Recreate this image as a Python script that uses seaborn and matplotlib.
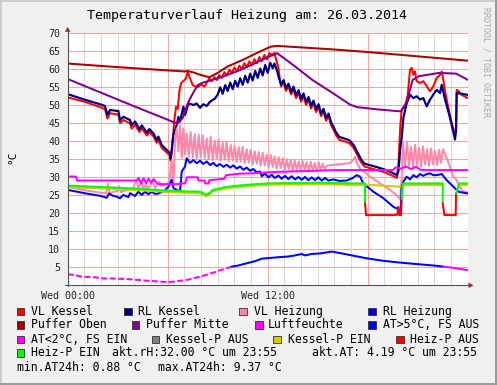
import matplotlib
matplotlib.use('Agg')
import matplotlib.pyplot as plt
import seaborn as sns
import pandas as pd
from matplotlib.lines import Line2D
from matplotlib.patches import Rectangle, Polygon

sns.set_style('white')
plt.rcParams['font.family'] = ['DejaVu Sans Mono', 'DejaVu Sans']

W, H = 497, 385

# ---------------- data (hours since Wed 00:00, degrees C) ----------------
po_t = [0, 3, 7.0, 7.2, 7.5, 8.0, 8.5, 9.0, 9.6, 10.5, 11.2, 11.7, 12.2, 12.6, 13.6, 16, 18, 20, 22, 24]
po_v = [61.6, 60.6, 59.4, 59.5, 59.2, 58.4, 57.8, 59.0, 60.8, 62.6, 64.2, 65.3, 66.3, 66.5, 66.2, 65.5, 64.8, 64.0, 63.2, 62.4]

pm_t = [0, 2, 4, 6.0, 6.45, 6.6, 6.9, 7.2, 7.46, 7.8, 8.05, 9.0, 9.62, 10.3, 11.06, 11.8, 12.56, 13.64, 14.66, 15.9,
        16.94, 17.36, 18.5, 20.0, 20.35, 20.7, 21.1, 22.3, 23.3, 24.0]
pm_v = [57.3, 53.5, 49.7, 46.0, 45.1, 45.0, 46.5, 50.5, 52.9, 55.6, 56.2, 57.5, 58.5, 59.7, 61.3, 62.9, 64.5, 60.8, 57.1, 53.4,
        50.2, 49.5, 48.9, 48.3, 51.1, 57.1, 58.1, 59.0, 58.8, 57.1]

rk_t = [0, 1.0, 2.0, 2.24, 2.38, 2.54, 3.04, 3.14, 3.34, 3.74, 3.84, 4.04, 4.3, 4.45, 4.75, 4.9, 5.14, 5.34, 5.44, 5.64,
        5.94, 6.14, 6.18, 6.34, 6.54, 6.64, 6.74, 6.94, 7.04, 7.24, 7.54, 7.74, 7.94, 8.14, 8.34, 8.54, 8.84,
        9.0, 9.15, 9.3, 9.45, 9.6, 9.75, 9.9, 10.05, 10.2, 10.35, 10.5, 10.65, 10.8, 10.95, 11.1, 11.25, 11.4, 11.55,
        11.7, 11.85, 12.0, 12.15, 12.3, 12.4, 12.55, 12.7, 12.8, 12.95, 13.1, 13.25, 13.4, 13.55, 13.7, 13.85, 14.0,
        14.15, 14.3, 14.45, 14.6, 14.75, 14.9, 15.05, 15.2, 15.35, 15.5, 15.65, 15.8, 15.95, 16.1, 16.3, 16.6, 16.9,
        17.15, 17.4, 17.6, 17.8, 18.5, 19.0, 19.5, 19.75, 19.85, 19.95, 20.04, 20.14, 20.34, 20.54, 20.74, 20.94,
        21.14, 21.34, 21.54, 21.74, 21.94, 22.14, 22.34, 22.44, 22.64, 22.84, 23.04, 23.24, 23.3, 23.34, 23.64, 24.0]
rk_v = [53.1, 51.6, 50.2, 49.8, 47.3, 48.7, 48.4, 45.9, 46.8, 45.9, 44.5, 45.5, 43.4, 44.4, 42.4, 43.4, 42.2, 40.4, 41.3, 39.0,
        37.6, 36.7, 35.0, 41.7, 44.5, 46.8, 45.5, 49.6, 47.3, 50.5, 50.1, 50.5, 49.3, 50.3, 49.8, 51.0, 51.9,
        53.0, 55.0, 53.2, 55.6, 54.0, 56.3, 54.5, 56.8, 55.2, 57.5, 55.7, 58.2, 56.3, 58.8, 56.9, 59.5, 57.6, 60.2,
        58.3, 61.2, 59.0, 61.8, 60.3, 61.6, 59.8, 57.2, 55.8, 57.0, 54.8, 56.0, 53.8, 55.2, 52.8, 54.2, 51.8,
        53.3, 50.9, 52.3, 49.9, 51.3, 48.9, 50.3, 47.8, 49.0, 46.5, 47.7, 45.3, 44.0, 42.5, 41.2, 40.8, 40.3,
        39.0, 36.8, 35.0, 33.8, 32.9, 32.2, 31.2, 30.6, 31.8, 38.0, 40.9, 46.5, 50.6, 52.9, 52.0, 52.5,
        51.6, 52.0, 49.7, 51.6, 53.0, 54.3, 53.4, 55.7, 51.6, 48.3, 44.6, 40.5, 43.0, 53.4, 53.2, 52.9]

vk_t = [0, 1.0, 2.0, 2.24, 2.38, 2.54, 3.04, 3.14, 3.34, 3.74, 3.84, 4.04, 4.3, 4.45, 4.75, 4.9, 5.14, 5.34, 5.44, 5.64,
        5.94, 6.14, 6.18, 6.3, 6.4, 6.5, 6.6, 6.7, 6.8, 7.0, 7.1, 7.2, 7.3, 7.5, 7.8, 8.0, 8.2, 8.5,
        8.64, 8.8, 8.95, 9.1, 9.25, 9.4, 9.55, 9.7, 9.85, 10.0, 10.15, 10.3, 10.45, 10.6, 10.75, 10.9, 11.05, 11.2,
        11.35, 11.5, 11.65, 11.8, 11.95, 12.1, 12.24, 12.4, 12.55, 12.64, 12.74, 12.8,
        12.95, 13.1, 13.25, 13.4, 13.55, 13.7, 13.85, 14.0, 14.15, 14.3, 14.45, 14.6, 14.75, 14.9, 15.05, 15.2,
        15.35, 15.5, 15.65, 15.8, 15.95, 16.1, 16.3, 16.6, 16.9, 17.15, 17.4, 17.6, 17.8, 18.5, 19.0, 19.5, 19.75,
        19.85, 19.95, 20.04, 20.24, 20.4, 20.54, 20.64, 20.74, 20.84, 20.94, 21.14, 21.34, 21.54, 21.74, 21.94,
        22.14, 22.34, 22.44, 22.54, 22.64, 22.84, 23.04, 23.24, 23.3, 23.34, 23.44, 23.64, 24.0]
vk_v = [52.2, 51.0, 49.4, 48.9, 46.3, 47.8, 47.4, 45.0, 45.9, 45.0, 43.5, 44.6, 42.6, 43.6, 41.6, 42.6, 41.4, 39.6, 40.4, 38.2,
        36.9, 36.0, 34.5, 40.5, 46.0, 49.6, 49.0, 54.0, 56.1, 57.0, 57.5, 59.3, 58.0, 55.6, 55.0, 55.8, 55.2, 57.5,
        56.7, 57.8, 57.0, 58.4, 57.6, 59.2, 58.3, 59.9, 58.9, 60.5, 59.5, 61.0, 60.1, 61.7, 60.6, 62.2, 61.1, 62.8,
        61.7, 63.4, 62.2, 64.0, 62.8, 64.5, 64.0, 64.5, 62.0, 60.4, 57.0, 55.2,
        56.3, 54.0, 55.3, 53.0, 54.5, 52.0, 53.5, 51.0, 52.6, 50.1, 51.6, 49.1, 50.6, 48.1, 49.6, 47.0,
        48.3, 45.7, 47.0, 44.5, 43.2, 41.7, 40.4, 40.0, 39.5, 38.2, 36.0, 34.2, 33.0, 32.1, 31.4, 30.4, 29.8,
        34.0, 44.0, 48.8, 49.7, 52.8, 59.9, 60.4, 58.5, 59.4, 56.7, 56.2, 56.7, 55.3, 53.9, 55.3,
        57.6, 58.5, 59.4, 57.1, 53.9, 49.3, 45.1, 41.8, 43.5, 54.3, 54.0, 52.9, 52.0]

rh_t = [0, 1.0, 2.0, 2.34, 2.48, 2.7, 2.94, 3.14, 3.34, 3.64, 3.74, 4.04, 4.24, 4.44, 4.64, 4.84, 5.04, 5.24, 5.44, 5.8,
        6.04, 6.24, 6.34, 6.54, 6.74, 6.84, 7.04, 7.14, 7.34, 7.54, 7.74, 7.94, 8.14, 8.34, 8.54, 8.74, 8.94, 9.14,
        9.34, 9.54, 9.74, 9.94, 10.14, 10.34, 10.54, 10.74, 10.94, 11.14, 11.34, 11.54, 11.64, 11.84, 12.04, 12.24,
        12.44, 12.64, 12.84, 13.04, 13.24, 13.44, 13.64, 13.84, 14.04, 14.24, 14.44, 14.64, 14.84, 15.04, 15.24,
        15.44, 15.64, 15.94, 16.3, 16.74, 17.1, 17.34, 17.54, 17.74, 18.34, 18.94, 19.54, 19.94, 19.98, 20.04,
        20.14, 20.34, 20.54, 20.74, 20.94, 21.14, 21.34, 21.54, 21.74, 21.94, 22.14, 22.44, 22.74, 23.14, 23.44, 24.0]
rh_v = [26.5, 25.6, 24.8, 24.3, 25.5, 24.9, 24.6, 24.2, 25.1, 24.5, 25.6, 24.8, 26.0, 25.1, 26.0, 25.3, 26.0, 25.4, 25.5, 26.2,
        27.4, 29.3, 27.0, 26.5, 26.0, 31.6, 33.0, 35.3, 34.0, 34.8, 33.9, 34.6, 33.7, 34.4, 33.4, 34.0, 33.1, 33.7,
        32.9, 33.5, 32.7, 33.3, 32.4, 33.0, 32.1, 32.7, 31.8, 32.3, 31.4, 31.6, 30.3, 31.0, 30.0, 30.7,
        29.8, 30.5, 29.6, 30.4, 29.5, 30.3, 29.4, 30.1, 29.3, 30.1, 29.2, 30.0, 29.2, 30.0, 29.1,
        29.8, 29.1, 29.4, 29.0, 29.1, 29.8, 30.6, 30.2, 28.3, 26.0, 24.2, 21.8, 20.9, 20.6, 27.4,
        28.8, 30.2, 29.4, 30.6, 30.0, 30.9, 30.4, 30.9, 31.1, 30.6, 30.6, 30.9, 29.2, 27.4, 26.0, 25.5]

vh_t = [0, 1.0, 2.3, 2.42, 2.5, 2.7, 3.0, 3.08, 3.2, 3.5, 3.9, 4.12, 4.25, 4.42, 4.55, 4.7, 4.8, 5.1, 5.25, 5.5, 5.6,
        5.8, 6.0, 6.1, 6.24, 6.34, 6.44, 6.54, 6.64, 6.74, 6.84, 6.94, 7.04, 7.14, 7.26, 7.38, 7.5, 7.62, 7.74,
        7.86, 7.98, 8.1, 8.22, 8.34, 8.46, 8.58, 8.7, 8.82, 8.94, 9.06, 9.18, 9.3, 9.42, 9.54, 9.66, 9.78, 9.9,
        10.02, 10.14, 10.26, 10.38, 10.5, 10.62, 10.74, 10.86, 10.98, 11.1, 11.22, 11.34, 11.46, 11.58, 11.7, 11.82,
        11.94, 12.06, 12.18, 12.3, 12.42, 12.54, 12.66, 12.78, 12.9, 13.02, 13.14, 13.26, 13.38, 13.5, 13.62, 13.74,
        13.86, 13.98, 14.1, 14.22, 14.34, 14.46, 14.58, 14.7, 14.82, 14.94, 15.06, 15.18, 15.3, 15.42, 15.54, 15.8,
        16.3, 16.9, 17.1, 17.24, 17.4, 17.54, 18.14, 18.74, 19.34, 19.84, 19.95, 20.04, 20.12, 20.24, 20.36, 20.48,
        20.6, 20.72, 20.84, 20.96, 21.08, 21.2, 21.32, 21.44, 21.56, 21.68, 21.8, 21.92, 22.04, 22.16, 22.28, 22.4,
        22.52, 22.64, 22.94, 23.14, 23.34, 23.44, 23.7, 24.0]
vh_v = [27.4, 26.4, 25.5, 28.3, 25.6, 25.9, 26.2, 27.5, 25.9, 26.4, 26.6, 29.3, 26.9, 28.8, 26.5, 28.3, 26.8, 28.8, 27.0, 28.8, 27.6,
        27.9, 28.3, 28.8, 34.8, 27.8, 40.4, 43.6, 37.2, 44.5, 35.4, 43.6, 36.3, 42.2, 35.8, 42.6, 35.5, 42.0, 35.0,
        41.8, 35.6, 41.7, 35.4, 40.8, 35.0, 41.2, 34.8, 40.2, 35.2, 40.5, 34.6, 39.6, 34.9, 39.8, 34.5, 39.0, 34.7,
        38.8, 34.2, 38.4, 34.4, 38.5, 33.9, 37.8, 34.1, 37.6, 33.6, 37.2, 33.8, 37.0, 33.2, 36.8, 33.3,
        36.3, 32.8, 36.2, 32.9, 35.8, 32.4, 35.6, 32.6, 35.3, 32.1, 35.0, 32.3, 34.8, 31.8, 34.6, 32.0,
        34.4, 31.7, 34.5, 31.9, 34.2, 31.6, 34.3, 31.8, 34.0, 31.6, 34.2, 31.9, 33.8, 32.2, 33.2, 33.4,
        33.6, 33.9, 34.6, 35.7, 33.5, 32.5, 30.2, 28.3, 26.5, 24.6, 23.8, 30.0, 39.6, 33.0, 39.9, 33.2,
        38.4, 32.8, 39.0, 33.4, 38.2, 33.0, 38.6, 33.5, 37.8, 33.2, 38.0, 33.6, 37.4, 33.4, 37.6, 34.0,
        37.8, 36.5, 32.9, 30.2, 29.2, 27.9, 26.2, 25.8]

lf_t = [0, 0.5, 0.55, 4.15, 4.25, 4.4, 4.55, 4.7, 4.85, 5.0, 5.15, 5.3, 5.45, 6.6, 6.75, 7.05, 7.15, 7.8, 7.85, 8.2,
        8.25, 8.45, 8.5, 9.4, 9.5, 10.3, 11.0, 12.5, 14.0, 16.0, 18.0, 19.5, 19.7, 20.0, 20.3, 20.6, 20.9, 21.2, 24.0]
lf_v = [30.2, 30.2, 29.1, 29.1, 29.8, 28.3, 29.7, 28.4, 29.6, 28.5, 29.5, 28.6, 28.1, 28.1, 28.3, 28.3, 30.0, 30.0, 29.1, 29.1,
        28.3, 28.3, 29.2, 29.6, 30.6, 31.0, 31.1, 31.5, 31.7, 32.0, 32.0, 32.0, 32.8, 32.4, 33.0, 32.3, 32.9, 32.0, 32.0]

# outdoor temperature, split by colour state
atlo1_t = [0, 0.36, 0.86, 1.66, 2.1, 2.6, 3.66, 4.66, 5.66, 6.06, 6.66, 7.26, 7.64, 7.86, 8.24, 8.84, 9.44, 9.84]
atlo1_v = [3.0, 2.9, 2.4, 2.2, 1.9, 1.9, 1.7, 1.3, 1.0, 0.88, 1.2, 1.6, 2.1, 2.3, 2.8, 3.7, 4.6, 5.2]
athi_t = [9.84, 10.24, 10.64, 11.24, 11.64, 12.64, 13.24, 13.64, 14.04, 14.24, 14.64, 15.24, 15.84, 16.4, 16.94, 17.94,
          18.94, 19.94, 20.94, 21.94, 22.54]
athi_v = [5.2, 5.5, 6.0, 6.7, 7.4, 7.8, 8.0, 8.3, 8.7, 8.3, 8.7, 8.9, 9.37, 8.9, 8.4, 7.5, 6.8, 6.3, 5.9, 5.5, 5.2]
atlo2_t = [22.54, 23.34, 24.0]
atlo2_v = [5.2, 4.7, 4.19]

# Kessel-P EIN (yellow)
ke1_t = [0, 2, 4, 6, 7, 7.9, 8.1, 8.3, 8.5, 8.7, 9.0, 9.5, 10, 11, 12, 13, 14, 15, 16, 17, 17.84, 18.5, 19.2, 19.97]
ke1_v = [27.3, 26.9, 26.5, 25.9, 25.7, 25.6, 25.3, 24.7, 25.2, 26.1, 26.4, 26.9, 27.2, 27.6, 27.9, 28.0, 28.0, 28.1, 28.0,
         27.9, 27.9, 27.8, 27.6, 27.4]
ke2_t = [20.1, 22.5]
ke2_v = [27.9, 27.9]
ke3_t = [23.5, 24.0]
ke3_v = [27.9, 27.9]

# Heiz-P EIN (green) / AUS (red)
he1_t = [0, 2, 4, 6, 7, 7.9, 8.1, 8.3, 8.5, 8.7, 9.0, 9.5, 10, 11, 12, 13, 14, 15, 16, 17, 17.84, 17.84]
he1_v = [27.7, 27.3, 26.9, 26.3, 26.1, 26.0, 25.7, 25.1, 25.6, 26.5, 26.8, 27.3, 27.6, 28.0, 28.3, 28.4, 28.4, 28.5, 28.4,
         28.3, 28.3, 22.8]
ha1_t = [17.84, 17.9, 19.64, 19.78, 19.84, 19.9, 20.0, 20.04]
ha1_v = [22.8, 19.5, 19.5, 19.6, 21.8, 19.5, 19.5, 24.0]
he2_t = [20.04, 20.1, 21.0, 22.0, 22.5, 22.5]
he2_v = [24.0, 28.3, 28.3, 28.3, 28.3, 22.8]
ha2_t = [22.5, 22.6, 23.28, 23.3]
ha2_v = [22.8, 19.5, 19.5, 25.5]
he3_t = [23.3, 23.5, 24.0]
he3_v = [25.5, 28.3, 28.3]

x_tick_pos = [0, 6, 12, 18]
x_tick_lab = ['Wed 00:00', '', 'Wed 12:00', '']
y_ticks = [5, 10, 15, 20, 25, 30, 35, 40, 45, 50, 55, 60, 65, 70]

title = 'Temperaturverlauf Heizung am: 26.03.2014'
legend_rows = [
    [(16.7, 30.7, 'VL Kessel', '#FF0000'), (124.0, 138.0, 'RL Kessel', '#000080'),
     (239.3, 254.0, 'VL Heizung', '#FF88AA'), (368.3, 382.7, 'RL Heizung', '#0000FF')],
    [(16.7, 30.7, 'Puffer Oben', '#A80000'), (131.7, 145.7, 'Puffer Mitte', '#800090'),
     (255.0, 267.7, 'Luftfeuchte', '#FF00FF'), (368.3, 382.7, 'AT>5°C, FS AUS', '#0000FF')],
    [(16.7, 30.7, 'AT<2°C, FS EIN', '#FF00FF'), (151.7, 166.0, 'Kessel-P AUS', '#808080'),
     (273.0, 288.0, 'Kessel-P EIN', '#CCCC00'), (396.0, 410.0, 'Heiz-P AUS', '#FF0000')],
    [(16.7, 30.7, 'Heiz-P EIN', '#00FF00')],
]
row_y = [311.3, 325.0, 339.3, 352.7, 367.3]
info_texts = [(112.3, 352.7, 'akt.rH:32.00 °C um 23:55'), (312.3, 352.7, 'akt.AT: 4.19 °C um 23:55'),
              (16.7, 367.3, 'min.AT24h: 0.88 °C'), (158.3, 367.3, 'max.AT24h: 9.37 °C')]

# ---------------- figure ----------------
fig = plt.figure(figsize=(W / 100, H / 100), dpi=100)
fig.patch.set_facecolor('#F0F0F0')

def fx(x):
    return x / W

def fy(y):
    return 1 - y / H

x0, x1 = 67.7, 467.7
ytop, ybot = 33.3, 285.3
ax = fig.add_axes([fx(x0), fy(ybot), (x1 - x0) / W, (ybot - ytop) / H])
ax.set_facecolor('white')
ax.set_xlim(0, 24)
ax.set_ylim(0, 70)
for s in ax.spines.values():
    s.set_visible(False)

ax.set_xticks(x_tick_pos)
ax.set_xticklabels(x_tick_lab, fontsize=7.2)
ax.set_xticks(range(0, 24), minor=True)
ax.set_yticks(y_ticks)
ax.set_yticklabels([str(v) for v in y_ticks], fontsize=7.2)
ax.tick_params(axis='x', which='both', length=2.2, width=0.7, color='#606060', pad=2.0)
ax.tick_params(axis='y', which='major', length=2.0, width=0.7, color='#606060', pad=3.4)
ax.grid(False)
ax.grid(which='minor', axis='x', color='#DADADA', lw=0.75)
ax.grid(which='major', axis='x', color='#F2A6A6', lw=0.75)
ax.grid(which='major', axis='y', color='#F2A6A6', lw=0.75)
ax.set_axisbelow(True)


def line(t, v, color, lw=1.45, **kw):
    df = pd.DataFrame({'t': t, 'v': v})
    sns.lineplot(data=df, x='t', y='v', ax=ax, color=color, linewidth=lw, sort=False,
                 estimator=None, legend=False, **kw)


line(vk_t, vk_v, '#FF0000')
line(rk_t, rk_v, '#000080', lw=1.6)
line(vh_t, vh_v, '#FF88AA')
line(rh_t, rh_v, '#0000FF')
line(po_t, po_v, '#A80000')
line(pm_t, pm_v, '#800090')
line(lf_t, lf_v, '#FF00FF')
line(atlo1_t, atlo1_v, '#FF00FF', dashes=(3, 1.2))
line(athi_t, athi_v, '#0000FF')
line(atlo2_t, atlo2_v, '#FF00FF')
line(ke1_t, ke1_v, '#CCCC00')
line(ke2_t, ke2_v, '#CCCC00')
line(ke3_t, ke3_v, '#CCCC00')
line(he1_t, he1_v, '#00FF00')
line(ha1_t, ha1_v, '#FF0000')
line(he2_t, he2_v, '#00FF00')
line(ha2_t, ha2_v, '#FF0000')
line(he3_t, he3_v, '#00FF00')
ax.set_xlabel('')
ax.set_ylabel('')

# axis lines and arrows
axc = '#505050'
arc = '#A02828'
fig.add_artist(Line2D([fx(x0), fx(x0)], [fy(ybot + 1), fy(29.5)], color=axc, lw=0.8))
fig.add_artist(Line2D([fx(x0 - 3), fx(470)], [fy(ybot), fy(ybot)], color=axc, lw=0.8))
fig.add_artist(Polygon([(fx(x0), fy(26.8)), (fx(x0 - 2.8), fy(31.8)), (fx(x0 + 2.8), fy(31.8))],
                       closed=True, color=arc, lw=0))
fig.add_artist(Polygon([(fx(473.5), fy(ybot)), (fx(468.5), fy(ybot - 2.8)), (fx(468.5), fy(ybot + 2.8))],
                       closed=True, color=arc, lw=0))

# texts
fig.text(fx(247), fy(16), title, ha='center', va='center', fontsize=9.6, color='#000000')
fig.text(fx(12), fy(157), '°C', rotation=90, ha='center', va='center', fontsize=8, color='#000000')
fig.text(fx(486), fy(7), 'RRDTOOL / TOBI OETIKER', rotation=270, ha='center', va='top',
         fontsize=6.0, color='#AAAAAA')

for r, items in enumerate(legend_rows):
    yc = row_y[r]
    for bx, tx, lab, col in items:
        fig.add_artist(Rectangle((fx(bx), fy(yc + 3.9)), 7.6 / W, 7.6 / H, facecolor=col,
                                 edgecolor='#303030', lw=0.6))
        fig.text(fx(tx), fy(yc), lab, ha='left', va='center', fontsize=8.3, color='#000000')
for tx, ty, lab in info_texts:
    fig.text(fx(tx), fy(ty), lab, ha='left', va='center', fontsize=8.3, color='#000000')

# 3D-ish frame
fig.add_artist(Line2D([0, 1], [fy(0.8), fy(0.8)], color='#CBCBCB', lw=1.4))
fig.add_artist(Line2D([fx(0.8), fx(0.8)], [0, 1], color='#CBCBCB', lw=1.4))
fig.add_artist(Line2D([0, 1], [fy(384.2), fy(384.2)], color='#999999', lw=1.4))
fig.add_artist(Line2D([fx(496.2), fx(496.2)], [0, 1], color='#999999', lw=1.4))

fig.savefig('out.png', dpi=100, facecolor=fig.get_facecolor())
